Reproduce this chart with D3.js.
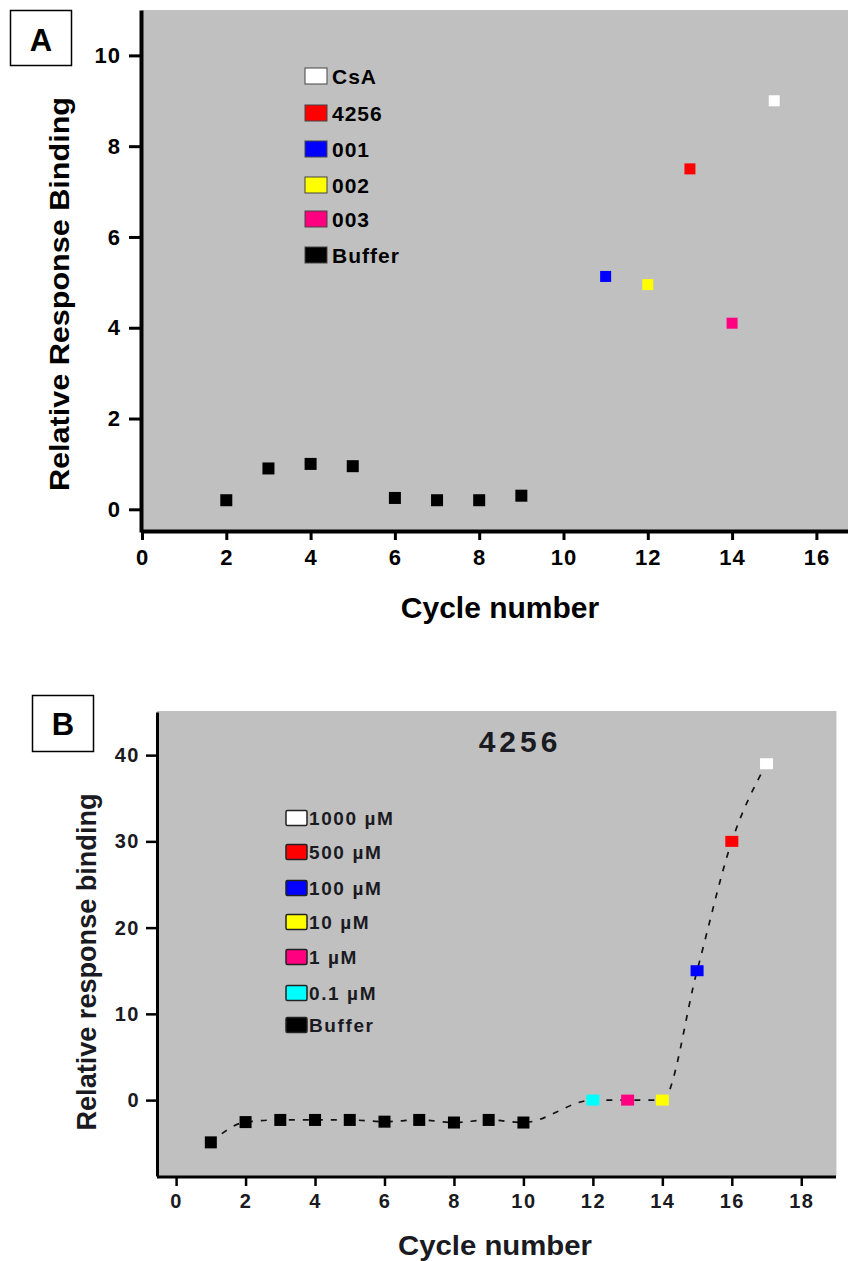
<!DOCTYPE html>
<html>
<head>
<meta charset="utf-8">
<script src="https://cdn.jsdelivr.net/npm/d3@7"></script>
<style>
  body { margin: 0; background: #fff; }
  svg { display: block; }
  text { font-family: "Liberation Sans", Arial, sans-serif; font-weight: bold; }
</style>
</head>
<body>
<svg width="848" height="1261"></svg>
<script>
// ---- panel A data ----
var cyclesA = [2, 3, 4, 5, 6, 7, 8, 9];
var bufferA = [0.2, 0.9, 1.0, 0.95, 0.25, 0.2, 0.2, 0.3];
var compoundsA = ["CsA", "4256", "001", "002", "003"];
var compoundCyclesA = [15, 13, 11, 12, 14];
var compoundValuesA = [9.0, 7.5, 5.13, 4.95, 4.1];
var compoundColorsA = ["#ffffff", "#ff0000", "#0000ff", "#ffff00", "#ff0080"];
var xTicksA = [0, 2, 4, 6, 8, 10, 12, 14, 16];
var yTicksA = [0, 2, 4, 6, 8, 10];

// ---- panel B data ----
var cyclesB = [1, 2, 3, 4, 5, 6, 7, 8, 9, 10];
var bufferB = [-4.9, -2.55, -2.3, -2.3, -2.3, -2.5, -2.3, -2.6, -2.3, -2.6];
var concLabelsB = ["1000 µM", "500 µM", "100 µM", "10 µM", "1 µM", "0.1 µM"];
var concCyclesB = [17, 16, 15, 14, 13, 12];
var concValuesB = [39, 30, 15, 0, 0, 0];
var concColorsB = ["#ffffff", "#ff0000", "#0000ff", "#ffff00", "#ff0080", "#00ffff"];
var xTicksB = [0, 2, 4, 6, 8, 10, 12, 14, 16, 18];
var yTicksB = [0, 10, 20, 30, 40];

var svg = d3.select("svg");

// ================= Panel A =================
var ga = svg.append("g");

var xA = d3.scaleLinear().domain([0, 16.75]).range([142, 848]);
var yA = d3.scaleLinear().domain([-0.5, 11]).range([532, 10]);

ga.append("rect")
    .attr("x", 142).attr("y", 10)
    .attr("width", 848 - 142).attr("height", 522)
    .attr("fill", "#c0c0c0");

var axA = ga.append("g")
    .attr("transform", "translate(0,531)")
    .call(d3.axisBottom(xA).tickValues(xTicksA).tickSize(9).tickSizeOuter(0).tickPadding(9));
var ayA = ga.append("g")
    .attr("transform", "translate(141,0)")
    .call(d3.axisLeft(yA).tickValues(yTicksA).tickSize(12).tickSizeOuter(0).tickPadding(8));
[axA, ayA].forEach(function (a) {
    a.selectAll("path").attr("stroke", "#000").attr("stroke-width", 4);
    a.selectAll("line").attr("stroke", "#000").attr("stroke-width", 3);
    a.selectAll("text").attr("font-size", 22).attr("fill", "#000")
        .attr("letter-spacing", 1);
});

ga.selectAll(".bufA")
    .data(cyclesA)
    .enter().append("rect")
    .attr("x", function (d) { return xA(d) - 6; })
    .attr("y", function (d, i) { return yA(bufferA[i]) - 6; })
    .attr("width", 12).attr("height", 12)
    .attr("fill", "#000");

ga.selectAll(".cmpA")
    .data(compoundsA)
    .enter().append("rect")
    .attr("x", function (d, i) { return xA(compoundCyclesA[i]) - 5.5; })
    .attr("y", function (d, i) { return yA(compoundValuesA[i]) - 5.5; })
    .attr("width", 11).attr("height", 11)
    .attr("fill", function (d, i) { return compoundColorsA[i]; });

// legend A
var legA = compoundsA.concat(["Buffer"]);
var legColA = compoundColorsA.concat(["#000000"]);
var legYA = [76, 113, 149, 185, 219, 255];
var li = ga.selectAll(".legA").data(legA).enter().append("g")
    .attr("transform", function (d, i) { return "translate(0," + legYA[i] + ")"; });
li.append("rect")
    .attr("x", 305).attr("y", -8).attr("width", 22).attr("height", 16)
    .attr("fill", function (d, i) { return legColA[i]; })
    .attr("stroke", "#444").attr("stroke-width", 1);
li.append("text")
    .attr("x", 332).attr("y", 8)
    .attr("font-size", 21)
    .attr("letter-spacing", 1)
    .text(function (d) { return d; });

ga.append("text")
    .attr("transform", "translate(69,294) rotate(-90)")
    .attr("text-anchor", "middle")
    .attr("font-size", 28)
    .attr("textLength", 394)
    .attr("lengthAdjust", "spacingAndGlyphs")
    .text("Relative Response Binding");
ga.append("text")
    .attr("x", 500).attr("y", 618)
    .attr("text-anchor", "middle")
    .attr("font-size", 30)
    .text("Cycle number");

ga.append("rect")
    .attr("x", 10.5).attr("y", 10.5).attr("width", 61).attr("height", 55)
    .attr("fill", "#fff").attr("stroke", "#000").attr("stroke-width", 1.5);
ga.append("text")
    .attr("x", 41).attr("y", 51)
    .attr("text-anchor", "middle")
    .attr("font-size", 31)
    .text("A");

// ================= Panel B =================
var gb = svg.append("g");
var inkB = "#1a1a22";

var xB = d3.scaleLinear().domain([-0.55, 19]).range([157, 836]);
var yB = d3.scaleLinear().domain([-8.8, 45]).range([1176, 712]);

gb.append("rect")
    .attr("x", 157).attr("y", 711)
    .attr("width", 836 - 157).attr("height", 1176 - 711)
    .attr("fill", "#c0c0c0");
gb.append("line")
    .attr("x1", 836.5).attr("x2", 836.5).attr("y1", 711).attr("y2", 1176)
    .attr("stroke", "#e4e4e4").attr("stroke-width", 1);

var axB = gb.append("g")
    .attr("transform", "translate(0,1177)")
    .call(d3.axisBottom(xB).tickValues(xTicksB).tickSize(9).tickSizeOuter(0).tickPadding(8));
var ayB = gb.append("g")
    .attr("transform", "translate(157,0)")
    .call(d3.axisLeft(yB).tickValues(yTicksB).tickSize(11).tickSizeOuter(0).tickPadding(6));
[axB, ayB].forEach(function (a) {
    a.selectAll("path").attr("stroke", "#000").attr("stroke-width", 3);
    a.selectAll("line").attr("stroke", "#000").attr("stroke-width", 2.5);
    a.selectAll("text").attr("font-size", 20).attr("fill", inkB)
        .attr("letter-spacing", 1.5);
});
axB.select(".domain").attr("d", "M157,0H836");

// dashed connecting curve
var linePts = cyclesB.map(function (c, i) { return [c, bufferB[i]]; })
    .concat(concCyclesB.map(function (c, i) { return [c, concValuesB[i]]; }))
    .sort(function (a, b) { return d3.ascending(a[0], b[0]); });
var line = d3.line()
    .x(function (d) { return xB(d[0]); })
    .y(function (d) { return yB(d[1]); })
    .curve(d3.curveMonotoneX);
gb.append("path")
    .datum(linePts)
    .attr("fill", "none")
    .attr("stroke", "#111")
    .attr("stroke-width", 1.7)
    .attr("stroke-dasharray", "6,8")
    .attr("d", line);

gb.selectAll(".bufB")
    .data(cyclesB)
    .enter().append("rect")
    .attr("x", function (d) { return xB(d) - 6; })
    .attr("y", function (d, i) { return yB(bufferB[i]) - 6; })
    .attr("width", 12).attr("height", 12)
    .attr("fill", "#000");

gb.selectAll(".concB")
    .data(concLabelsB)
    .enter().append("rect")
    .attr("x", function (d, i) { return xB(concCyclesB[i]) - 6.5; })
    .attr("y", function (d, i) { return yB(concValuesB[i]) - 5.5; })
    .attr("width", 13).attr("height", 11)
    .attr("fill", function (d, i) { return concColorsB[i]; });

// legend B
var legB = concLabelsB.concat(["Buffer"]);
var legColB = concColorsB.concat(["#000000"]);
var legYB = [818, 852, 888, 922, 957, 993, 1025];
var lb = gb.selectAll(".legB").data(legB).enter().append("g")
    .attr("transform", function (d, i) { return "translate(0," + legYB[i] + ")"; });
lb.append("rect")
    .attr("x", 286).attr("y", -7.5).attr("width", 21).attr("height", 15)
    .attr("rx", 1.5)
    .attr("fill", function (d, i) { return legColB[i]; })
    .attr("stroke", "#222").attr("stroke-width", 1.5);
lb.append("text")
    .attr("x", 309).attr("y", 7)
    .attr("font-size", 19)
    .attr("letter-spacing", 1.6)
    .attr("fill", inkB)
    .text(function (d) { return d; });

gb.append("text")
    .attr("x", 520).attr("y", 752)
    .attr("text-anchor", "middle")
    .attr("font-size", 30)
    .attr("letter-spacing", 4)
    .attr("fill", inkB)
    .text("4256");

gb.append("text")
    .attr("transform", "translate(96,962) rotate(-90)")
    .attr("text-anchor", "middle")
    .attr("font-size", 27)
    .attr("textLength", 337)
    .attr("lengthAdjust", "spacingAndGlyphs")
    .attr("fill", inkB)
    .text("Relative response binding");
gb.append("text")
    .attr("x", 495).attr("y", 1255)
    .attr("text-anchor", "middle")
    .attr("font-size", 28)
    .attr("textLength", 194)
    .attr("lengthAdjust", "spacingAndGlyphs")
    .attr("fill", inkB)
    .text("Cycle number");

gb.append("rect")
    .attr("x", 32.5).attr("y", 695.5).attr("width", 61).attr("height", 56)
    .attr("fill", "#fff").attr("stroke", "#000").attr("stroke-width", 1.5);
gb.append("text")
    .attr("x", 63).attr("y", 735)
    .attr("text-anchor", "middle")
    .attr("font-size", 31)
    .text("B");
</script>
</body>
</html>
